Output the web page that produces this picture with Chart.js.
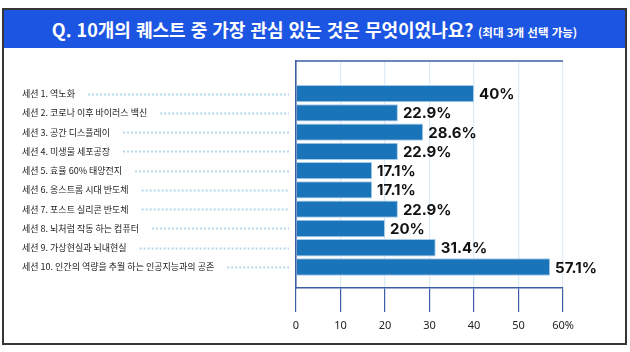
<!DOCTYPE html>
<html lang="ko">
<head>
<meta charset="utf-8">
<script src="https://cdn.jsdelivr.net/npm/chart.js@4/dist/chart.umd.min.js"></script>
<style>
  html, body { margin: 0; padding: 0; background: #ffffff; }
  body { width: 630px; height: 352px; position: relative; overflow: hidden; }
  #frame {
    position: absolute; left: 2px; top: 8px; width: 621px; height: 333px;
    border: 2px solid #363636; pointer-events: none;
  }
  #title {
    position: absolute; left: 0; top: 0; width: 621px; height: 38px;
    background: #1d55e3; color: #ffffff; text-align: center;
    font-family: "Noto Sans CJK KR", "Noto Sans", sans-serif; font-weight: 700;
    line-height: 38px; white-space: nowrap;
  }
  #title .main { font-size: 18px; }
  #title .sub { font-size: 11.5px; }
  #wrap { position: absolute; left: 0; top: 0; width: 630px; height: 352px; }
</style>
</head>
<body>
<div id="wrap"><canvas id="sessionChart" width="630" height="352"></canvas></div>
<div id="frame">
  <div id="title"><span class="main">Q. 10개의 퀘스트 중 가장 관심 있는 것은 무엇이었나요?</span> <span class="sub">(최대 3개 선택 가능)</span></div>
</div>
<script>
// ===== 데이터 =====
const categories = [
  '세션 1. 역노화',
  '세션 2. 코로나 이후 바이러스 백신',
  '세션 3. 공간 디스플레이',
  '세션 4. 미생물 세포공장',
  '세션 5. 효율 60% 태양전지',
  '세션 6. 옹스트롬 시대 반도체',
  '세션 7. 포스트 실리콘 반도체',
  '세션 8. 뇌처럼 작동 하는 컴퓨터',
  '세션 9. 가상현실과 뇌내현실',
  '세션 10. 인간의 역량을 추월 하는 인공지능과의 공존'
];
const percents = [40, 22.9, 28.6, 22.9, 17.1, 17.1, 22.9, 20, 31.4, 57.1];
const valueLabels = ['40%', '22.9%', '28.6%', '22.9%', '17.1%', '17.1%', '22.9%', '20%', '31.4%', '57.1%'];
const xTicks = [0, 10, 20, 30, 40, 50, 60];

const axisBlue = '#3d5ea6';
const gridBlue = '#dcebf7';
const labelFont = '"Noto Sans CJK KR", "Noto Sans", sans-serif';

// 점선 + 막대 값 + 위쪽 테두리
const decorPlugin = {
  id: 'decor',
  afterDraw(chart) {
    const ctx = chart.ctx;
    const area = chart.chartArea;
    const yScale = chart.scales.y;

    // 위쪽 테두리
    ctx.save();
    ctx.strokeStyle = axisBlue;
    ctx.lineWidth = 1.5;
    ctx.beginPath();
    ctx.moveTo(area.left, area.top);
    ctx.lineTo(area.right, area.top);
    ctx.stroke();
    ctx.restore();

    // 라벨 뒤 점선
    ctx.save();
    ctx.font = '9px ' + labelFont;
    ctx.strokeStyle = '#b3d8ee';
    ctx.lineWidth = 2;
    ctx.setLineDash([2, 2]);
    categories.forEach((c, i) => {
      const y = Math.round(yScale.getPixelForValue(i)) + 0.5;
      const w = ctx.measureText(c).width;
      ctx.beginPath();
      ctx.moveTo(yScale.left + w + 13, y);
      ctx.lineTo(area.left - 7, y);
      ctx.stroke();
    });
    ctx.restore();

    // 막대 값
    const meta = chart.getDatasetMeta(0);
    ctx.save();
    ctx.font = 'bold 15px Inter, sans-serif';
    ctx.fillStyle = '#111111';
    ctx.textAlign = 'left';
    ctx.textBaseline = 'middle';
    meta.data.forEach((bar, i) => {
      ctx.fillText(valueLabels[i], bar.x + 5, bar.y + 1);
    });
    ctx.restore();
  }
};

const ctx = document.getElementById('sessionChart').getContext('2d');
new Chart(ctx, {
  type: 'bar',
  data: {
    datasets: [{
      data: percents.map((v, i) => ({ x: v, y: i })),
      backgroundColor: '#1a74ba',
      borderColor: '#a6cbe9',
      borderWidth: 1,
      barPercentage: 0.9,
      categoryPercentage: 1
    }]
  },
  options: {
    indexAxis: 'y',
    responsive: false,
    animation: false,
    layout: { padding: { left: 22, top: 61, right: 67, bottom: 0 } },
    plugins: {
      legend: { display: false },
      tooltip: { enabled: false }
    },
    scales: {
      x: {
        type: 'linear',
        min: 0,
        max: 60,
        afterBuildTicks: (axis) => { axis.ticks = xTicks.map(v => ({ value: v })); },
        afterFit: (axis) => { axis.height = 64; },
        ticks: {
          color: '#222222',
          padding: 7,
          font: { family: '"Noto Sans", sans-serif', size: 11 },
          callback: (v) => v === 60 ? '60%' : v
        },
        grid: {
          color: (c) => c.tick && c.tick.value === 0 ? axisBlue : gridBlue,
          lineWidth: 1.2,
          tickColor: axisBlue,
          tickLength: 24
        },
        border: { color: axisBlue, width: 1.5 }
      },
      y: {
        type: 'linear',
        reverse: true,
        min: -1.1,
        max: 9.5,
        afterBuildTicks: (axis) => { axis.ticks = categories.map((c, i) => ({ value: i })); },
        afterFit: (axis) => { axis.width = 274; },
        ticks: {
          crossAlign: 'far',
          color: '#222222',
          font: { family: labelFont, size: 9 },
          callback: (v) => categories[v]
        },
        grid: { display: false },
        border: { color: axisBlue, width: 1.5 }
      }
    }
  },
  plugins: [decorPlugin]
});
</script>
</body>
</html>
